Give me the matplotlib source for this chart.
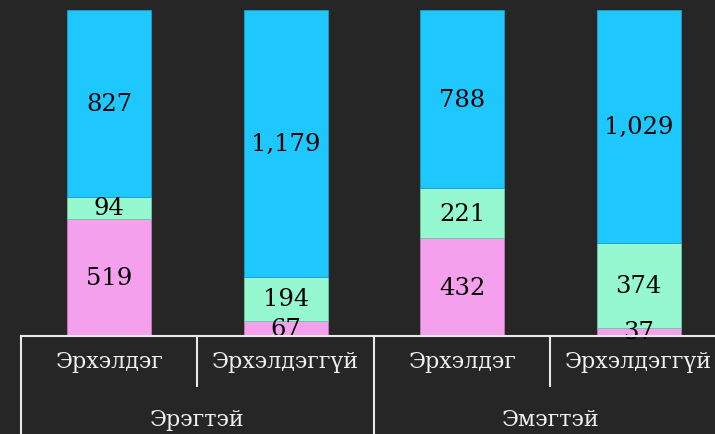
import matplotlib
matplotlib.use("Agg")
import matplotlib.pyplot as plt
import matplotlib.transforms as mtransforms
import numpy as np

sub_labels = ["Эрхэлдэг", "Эрхэлдэггүй", "Эрхэлдэг", "Эрхэлдэггүй"]
group_labels = ["Эрэгтэй", "Эмэгтэй"]
pink_vals = [519, 67, 432, 37]
green_vals = [94, 194, 221, 374]
blue_vals = [827, 1179, 788, 1029]

colors = ["#f5a0ec", "#96f8d0", "#1ec8ff"]
edges = ["#c07ab8", "#6ec8a4", "#1a9ccc"]
bg = "#262626"
line_c = "#e8e8e8"
font = "DejaVu Serif"

fig = plt.figure(figsize=(7.15, 4.35), dpi=100, facecolor=bg)
W, H = 715, 435
x0, x1, ytop, ybot = 21, 727, 11, 337
ax = fig.add_axes([x0 / W, (H - ybot) / H, (x1 - x0) / W, (ybot - ytop) / H])
ax.set_facecolor(bg)

series = [pink_vals, green_vals, blue_vals]
totals = np.sum(np.array(series), axis=0)
x = np.arange(len(sub_labels))
bottom = np.zeros(len(x))
for vals, c, ec in zip(series, colors, edges):
    frac = np.array(vals) / totals
    ax.bar(x, frac, 0.477, bottom=bottom, color=c, edgecolor=ec, linewidth=0.6, zorder=2)
    for xi, b, f, v in zip(x, bottom, frac, vals):
        ax.text(xi, b + f / 2, f"{v:,}", ha="center", va="center", fontsize=17.5,
                family=font, color="black", zorder=3, clip_on=False)
    bottom = bottom + frac

ax.set_xlim(-0.5, 3.5)
ax.set_ylim(0, 1)
ax.axis("off")

trans = mtransforms.blended_transform_factory(ax.transData, ax.transAxes)
ph = ybot - ytop
def ay(py):
    return (ybot - py) / ph

ax.plot([-0.5, 3.5], [0, 0], color=line_c, lw=1.5, transform=trans, clip_on=False, zorder=5)
for xv in [-0.5, 1.5, 3.5]:
    ax.plot([xv, xv], [0, ay(440)], color=line_c, lw=1.5, transform=trans, clip_on=False, zorder=5)
for xv in [0.5, 2.5]:
    ax.plot([xv, xv], [0, ay(387)], color=line_c, lw=1.5, transform=trans, clip_on=False, zorder=5)

for xi, lab in zip(x, sub_labels):
    ax.text(xi, ay(362), lab, ha="center", va="center", fontsize=16, family=font,
            color="#f0f0f0", transform=trans, clip_on=False)
for gi, lab in enumerate(group_labels):
    ax.text(gi * 2 + 0.5, ay(420), lab, ha="center", va="center", fontsize=16, family=font,
            color="#f0f0f0", transform=trans, clip_on=False)

fig.savefig("out.png", dpi=100, facecolor=bg)
